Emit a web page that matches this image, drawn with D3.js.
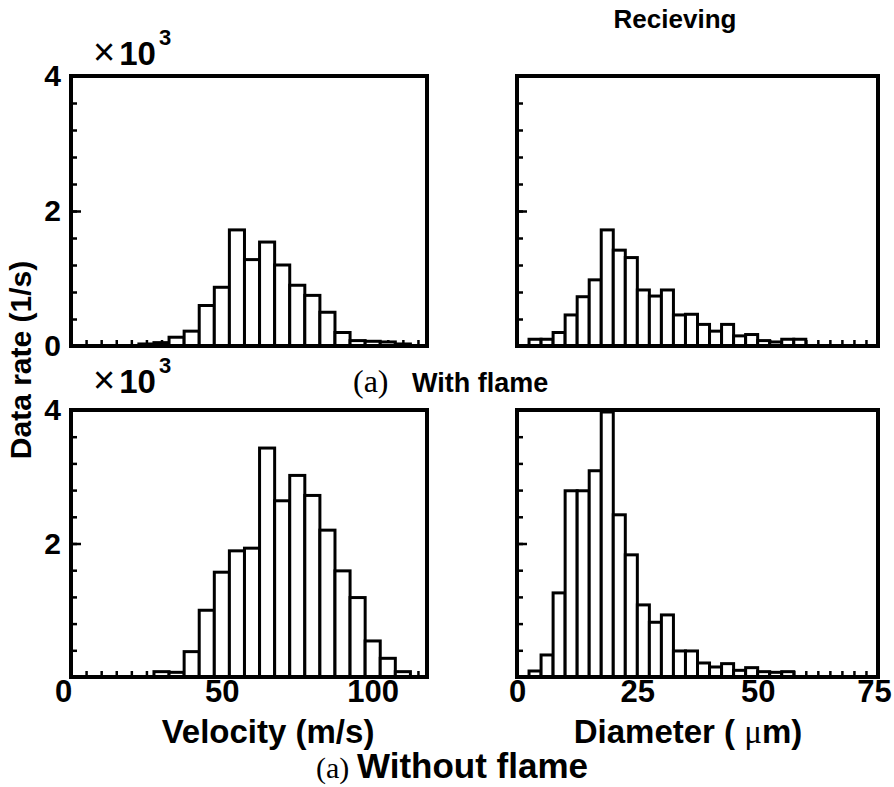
<!DOCTYPE html>
<html>
<head>
<meta charset="utf-8">
<script src="https://cdn.jsdelivr.net/npm/d3@7"></script>
<style>
  body { margin: 0; background: #fff; }
  text { font-family: "Liberation Sans", Arial, sans-serif; font-weight: bold; fill: #000; }
  .serif { font-family: "Liberation Serif", "Times New Roman", serif; font-weight: normal; }
</style>
</head>
<body>
<svg id="chart" width="894" height="787"></svg>
<script>
// velocity histogram: bin start (m/s), 5 m/s wide; data rate in 10^3 1/s
const velocityBins = [22.5, 27.5, 32.5, 37.5, 42.5, 47.5, 52.5, 57.5, 62.5, 67.5, 72.5, 77.5, 82.5, 87.5, 92.5, 97.5, 102.5, 107.5];
const velocityWithFlame = [0.03, 0.05, 0.13, 0.22, 0.6, 0.87, 1.72, 1.28, 1.54, 1.2, 0.9, 0.75, 0.5, 0.2, 0.08, 0.07, 0.06, 0.03];
const velocityNoFlame = [0, 0.08, 0.07, 0.38, 1.0, 1.57, 1.89, 1.93, 3.43, 2.64, 3.02, 2.72, 2.2, 1.59, 1.19, 0.54, 0.28, 0.08];

// diameter histogram: bin start (um), 2.5 um wide
const diameterBins = [2.5, 5, 7.5, 10, 12.5, 15, 17.5, 20, 22.5, 25, 27.5, 30, 32.5, 35, 37.5, 40, 42.5, 45, 47.5, 50, 52.5, 55, 57.5];
const diameterWithFlame = [0.1, 0.1, 0.2, 0.46, 0.73, 0.98, 1.72, 1.42, 1.31, 0.83, 0.74, 0.83, 0.46, 0.47, 0.32, 0.22, 0.32, 0.15, 0.17, 0.08, 0.06, 0.1, 0.1];
const diameterNoFlame = [0.09, 0.33, 1.26, 2.79, 2.79, 3.09, 3.97, 2.43, 1.83, 1.08, 0.82, 0.93, 0.39, 0.39, 0.21, 0.15, 0.2, 0.1, 0.14, 0.08, 0.07, 0.08, 0];

const velocityTicks = [0, 50, 100];
const diameterTicks = [0, 25, 50, 75];
const rateTicks = [0, 2, 4];

const svg = d3.select("#chart");

function drawPanel(o) {
  const x = d3.scaleLinear().domain(o.xDomain).range([o.left, o.right]);
  const y = d3.scaleLinear().domain([0, 4]).range([o.bottom, o.top]);
  const g = svg.append("g");

  // minor ticks, pointing inward
  g.append("g")
    .attr("transform", `translate(0,${o.bottom})`)
    .call(d3.axisBottom(x).tickValues(o.minorX).tickSize(-6).tickFormat(""))
    .call(a => a.select(".domain").remove());

  const minorY = d3.range(1, 10).map(i => i * 0.4);
  g.append("g")
    .attr("transform", `translate(${o.left},0)`)
    .call(d3.axisLeft(y).tickValues(minorY).tickSize(-6).tickFormat(""))
    .call(a => a.select(".domain").remove());
  g.append("g")
    .attr("transform", `translate(${o.left},0)`)
    .call(d3.axisLeft(y).tickValues([2]).tickSize(-10).tickFormat(""))
    .call(a => a.select(".domain").remove());
  g.selectAll(".tick line").attr("stroke", "#000").attr("stroke-width", 2.5);

  const bins = o.bins.map((b, i) => ({ x0: b, x1: b + o.binWidth, v: o.values[i] }))
    .filter(d => d.v > 0);

  g.selectAll("rect.bar")
    .data(bins)
    .join("rect")
    .attr("class", "bar")
    .attr("x", d => x(d.x0))
    .attr("width", d => x(d.x1) - x(d.x0))
    .attr("y", d => y(d.v))
    .attr("height", d => y(0) - y(d.v))
    .attr("fill", "#fff")
    .attr("stroke", "#000")
    .attr("stroke-width", 3);

  g.append("rect")
    .attr("x", o.left).attr("y", o.top)
    .attr("width", o.right - o.left).attr("height", o.bottom - o.top)
    .attr("fill", "none").attr("stroke", "#000").attr("stroke-width", 4);

  if (o.yLabels) {
    g.append("g")
      .attr("transform", `translate(${o.left},0)`)
      .call(d3.axisLeft(y).tickValues(o.yLabels).tickSize(0).tickPadding(10).tickFormat(d3.format("d")))
      .call(a => a.select(".domain").remove())
      .selectAll("text").style("font-size", "30px");
  }
  if (o.xLabels) {
    const ax = g.append("g")
      .attr("transform", `translate(0,${o.bottom})`)
      .call(d3.axisBottom(x).tickValues(o.xLabels).tickSize(0).tickPadding(3).tickFormat(d3.format("d")))
      .call(a => a.select(".domain").remove());
    ax.selectAll("text").style("font-size", "31px")
      .attr("dx", d => d === 0 ? o.zeroShift : (d === o.xDomain[1] ? -4 : 0));
  }
}

const velMinor = d3.range(5, 116, 5);
const diaMinor = d3.range(2.5, 75, 2.5);

drawPanel({ left: 71, right: 427, top: 76, bottom: 346, xDomain: [0, 118],
  bins: velocityBins, binWidth: 5, values: velocityWithFlame, minorX: velMinor, yLabels: rateTicks });
drawPanel({ left: 517, right: 878, top: 76, bottom: 346, xDomain: [0, 75],
  bins: diameterBins, binWidth: 2.5, values: diameterWithFlame, minorX: diaMinor });
drawPanel({ left: 71, right: 427, top: 410, bottom: 677, xDomain: [0, 118],
  bins: velocityBins, binWidth: 5, values: velocityNoFlame, minorX: velMinor,
  yLabels: [2, 4], xLabels: velocityTicks, zeroShift: -8 });
drawPanel({ left: 517, right: 878, top: 410, bottom: 677, xDomain: [0, 75],
  bins: diameterBins, binWidth: 2.5, values: diameterNoFlame, minorX: diaMinor,
  xLabels: diameterTicks, zeroShift: 0 });

// multiplier labels
[65, 393].forEach(yb => {
  const t = svg.append("text").attr("x", 93).attr("y", yb).style("font-size", "33px");
  t.append("tspan").style("font-weight", "normal").style("font-size", "38px").text("×");
  t.append("tspan").attr("dx", 4).text("10");
  t.append("tspan").attr("dx", 3).attr("dy", -20).style("font-size", "22px").text("3");
});

svg.append("text").attr("x", 675).attr("y", 28).attr("text-anchor", "middle")
  .style("font-size", "26px").text("Recieving");

svg.append("text")
  .attr("transform", "translate(31,360) rotate(-90)")
  .attr("text-anchor", "middle").style("font-size", "30px").text("Data rate (1/s)");

svg.append("text").attr("x", 268).attr("y", 743).attr("text-anchor", "middle")
  .style("font-size", "33px").text("Velocity (m/s)");

const dl = svg.append("text").attr("x", 688).attr("y", 743).attr("text-anchor", "middle")
  .style("font-size", "33px");
dl.append("tspan").text("Diameter ( ");
dl.append("tspan").attr("class", "serif").text("μ");
dl.append("tspan").text("m)");

// captions
svg.append("text").attr("class", "serif").attr("x", 353).attr("y", 392)
  .style("font-size", "32px").text("(a)");
svg.append("text").attr("x", 412).attr("y", 392)
  .style("font-size", "27px").text("With flame");

svg.append("text").attr("class", "serif").attr("x", 316).attr("y", 778)
  .style("font-size", "30px").text("(a)");
svg.append("text").attr("x", 357).attr("y", 778)
  .style("font-size", "35px").text("Without flame");
</script>
</body>
</html>
